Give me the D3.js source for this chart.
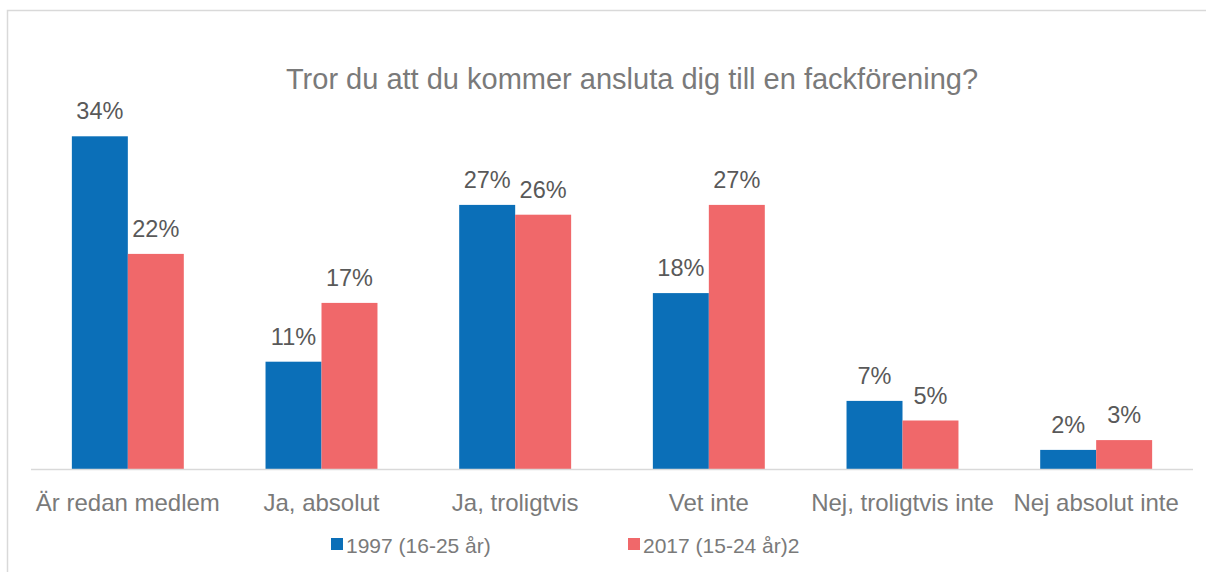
<!DOCTYPE html>
<html>
<head>
<meta charset="utf-8">
<script src="https://cdn.jsdelivr.net/npm/d3@7"></script>
<style>
  html, body { margin: 0; padding: 0; background: #fff; }
  svg { display: block; font-family: "Liberation Sans", Arial, sans-serif; }
</style>
</head>
<body>
<div id="chart-container"></div>
<script>
const categories = ["Är redan medlem", "Ja, absolut", "Ja, troligtvis", "Vet inte", "Nej, troligtvis inte", "Nej absolut inte"];
const seriesNames = ["1997 (16-25 år)", "2017 (15-24 år)2"];
const values1997 = [34, 11, 27, 18, 7, 2];
const values2017 = [22, 17, 26, 27, 5, 3];
const colors = ["#0B6FB8", "#F0686A"];
const title = "Tror du att du kommer ansluta dig till en fackförening?";

const W = 1206, H = 572;
const svg = d3.select("#chart-container").append("svg")
  .attr("width", W).attr("height", H);

// chart frame (runs off the right / bottom edge)
svg.append("rect")
  .attr("x", 7.5).attr("y", 10.5)
  .attr("width", 1300).attr("height", 700)
  .attr("fill", "none").attr("stroke", "#d9d9d9").attr("stroke-width", 1.5);

svg.append("text")
  .attr("x", 632).attr("y", 89)
  .attr("text-anchor", "middle")
  .attr("font-size", 29).attr("fill", "#7a7a7a")
  .text(title);

const x0 = d3.scaleBand().domain(categories).range([31, 1193]).padding(0);
const x1 = d3.scaleBand().domain(seriesNames).range([0, x0.bandwidth()]).paddingInner(0).paddingOuter(0.73);
const y = d3.scaleLinear().domain([0, 35]).range([469.5, 126.5]);

const rows = categories.map((c, i) => ({ cat: c, vals: [values1997[i], values2017[i]] }));

const groups = svg.append("g").selectAll("g")
  .data(rows).enter().append("g")
  .attr("transform", d => `translate(${x0(d.cat)},0)`);

groups.selectAll("rect")
  .data(d => d.vals.map((v, j) => ({ s: seriesNames[j], v: v, j: j })))
  .enter().append("rect")
  .attr("x", d => x1(d.s))
  .attr("y", d => y(d.v))
  .attr("width", x1.bandwidth())
  .attr("height", d => y(0) - y(d.v))
  .attr("fill", d => colors[d.j]);

groups.selectAll("text")
  .data(d => d.vals.map((v, j) => ({ s: seriesNames[j], v: v })))
  .enter().append("text")
  .attr("x", d => x1(d.s) + x1.bandwidth() / 2)
  .attr("y", d => y(d.v) - 17)
  .attr("text-anchor", "middle")
  .attr("font-size", 23.5).attr("fill", "#595959")
  .text(d => d.v + "%");

// axis
svg.append("line")
  .attr("x1", 31).attr("x2", 1193)
  .attr("y1", y(0)).attr("y2", y(0))
  .attr("stroke", "#d9d9d9").attr("stroke-width", 1.5);

svg.append("g").selectAll("text")
  .data(categories).enter().append("text")
  .attr("x", d => x0(d) + x0.bandwidth() / 2)
  .attr("y", 511)
  .attr("text-anchor", "middle")
  .attr("font-size", 24).attr("fill", "#7a7a7a")
  .text(d => d);

// legend
const legendX = [331, 628];
const legend = svg.append("g").selectAll("g")
  .data(seriesNames).enter().append("g")
  .attr("transform", (d, i) => `translate(${legendX[i]},538)`);
legend.append("rect")
  .attr("width", 12).attr("height", 12)
  .attr("fill", (d, i) => colors[i]);
legend.append("text")
  .attr("x", 15).attr("y", 15)
  .attr("font-size", 21).attr("fill", "#7a7a7a")
  .text(d => d);
</script>
</body>
</html>
